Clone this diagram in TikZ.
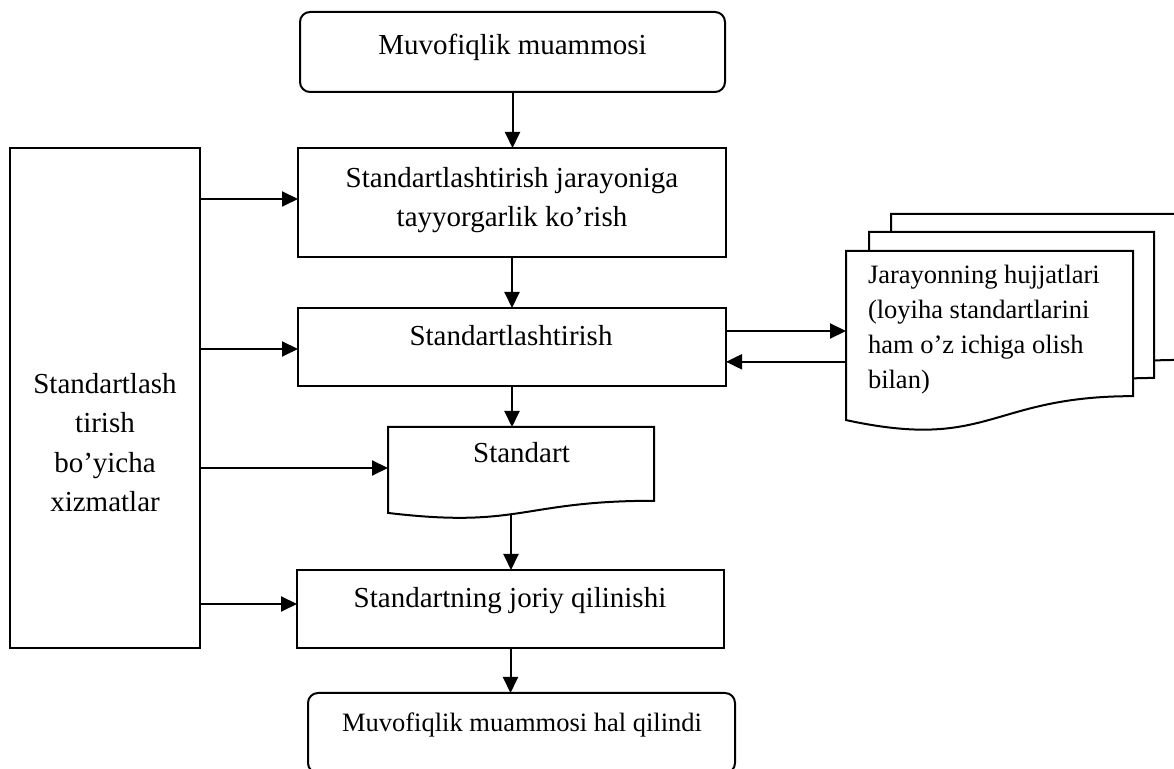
\documentclass[tikz,border=0pt]{standalone}
\usepackage{fontspec}
\setmainfont{Liberation Serif}
\usetikzlibrary{calc,arrows.meta}
\newcommand\drawdoc[1]{\draw[fill=white] (#1.north west) -- (#1.north east) -- ($(#1.north east)!0.802!(#1.south east)$) .. controls ($(#1.north)!0.802!(#1.south)$) and ($(#1.north)!1.107!(#1.south)$) .. ($(#1.north west)!0.934!(#1.south west)$) -- cycle;}
\begin{document}
\begin{tikzpicture}[x=0.5pt,y=-0.5pt, line width=1pt,
  box/.style={draw, rectangle, inner sep=0pt, outer sep=0pt},
  rbox/.style={box, rounded corners=5pt},
  docbox/.style={rectangle, inner sep=0pt, outer sep=0pt},
  arr/.style={-{Triangle[length=8pt,width=7.5pt]}},
  big/.style={font=\fontsize{14.5}{19.5}\selectfont, inner sep=0pt, align=center},
  small/.style={font=\fontsize{13.25}{17.5}\selectfont, inner sep=0pt}]
\useasboundingbox (0,0) rectangle (1174,769);

% boxes
\node[rbox, minimum width=212.5pt, minimum height=40pt] (top) at (512.5,52) {};
\node[box, minimum width=214pt, minimum height=54.5pt] (box2) at (512,202.5) {};
\node[box, minimum width=214pt, minimum height=39pt] (box3) at (512,347) {};
\node[box, minimum width=213.5pt, minimum height=39pt] (box5) at (510.5,609) {};
\node[box, minimum width=95pt, minimum height=250pt] (left) at (105,398) {};
\node[rbox, minimum width=213.5pt, minimum height=40pt] (bot) at (521.5,733) {};

% documents
\node[docbox, minimum width=133pt, minimum height=46pt] (std) at (521,473) {};
\node[docbox, minimum width=143.5pt, minimum height=91pt] (third) at (1034.5,305) {};
\node[docbox, minimum width=142.5pt, minimum height=91pt] (second) at (1011.5,323) {};
\node[docbox, minimum width=143.5pt, minimum height=90.5pt] (front) at (989.5,341.5) {};
\drawdoc{std}
\drawdoc{third}
\drawdoc{second}
\drawdoc{front}

% texts
\node[big, anchor=base] (ttop) at (512.5,55) {Muvofiqlik muammosi};
\node[big, anchor=north] (tbox2) at (512,166) {Standartlashtirish jarayoniga\\tayyorgarlik ko’rish};
\node[big, anchor=base] (tbox3) at (511,346) {Standartlashtirish};
\node[big, anchor=base] (tstd) at (521.5,463) {Standart};
\node[big, anchor=base] (tbox5) at (510,608) {Standartning joriy qilinishi};
\node[small, anchor=base] (tbot) at (522,732) {Muvofiqlik muammosi hal qilindi};
\node[big, anchor=north, font=\fontsize{14.5}{19.75}\selectfont] (tleft) at (105,372) {Standartlash\\tirish\\bo’yicha\\xizmatlar};
\node[small, anchor=north west, align=left] (tfront) at (867,264) {Jarayonning hujjatlari\\(loyiha standartlarini\\ham o’z ichiga olish\\bilan)};

% vertical flow
\draw[arr] (top.south) -- (top.south |- box2.north);
\draw[arr] (box2.south) -- (box2.south |- box3.north);
\draw[arr] (box3.south) -- (box3.south |- std.north);
\coordinate (stdb) at (511,514);
\draw[arr] (stdb) -- (stdb |- box5.north);
\draw[arr] (box5.south) -- (box5.south |- bot.north);

% left arrows
\coordinate (l2) at ([yshift=1.75pt]box2.west);
\coordinate (l3) at ([yshift=-1pt]box3.west);
\coordinate (l4) at ([yshift=2.5pt]std.west);
\coordinate (l5) at ([yshift=2.5pt]box5.west);
\draw[arr] (left.east |- l2) -- (l2);
\draw[arr] (left.east |- l3) -- (l3);
\draw[arr] (left.east |- l4) -- (l4);
\draw[arr] (left.east |- l5) -- (l5);

% right arrows
\coordinate (a1) at ($(box3.north east)!0.295!(box3.south east)$);
\coordinate (a2) at ($(box3.north east)!0.69!(box3.south east)$);
\draw[arr] (a1) -- (a1 -| front.west);
\draw[arr] (a2 -| front.west) -- (a2);
\end{tikzpicture}
\end{document}
